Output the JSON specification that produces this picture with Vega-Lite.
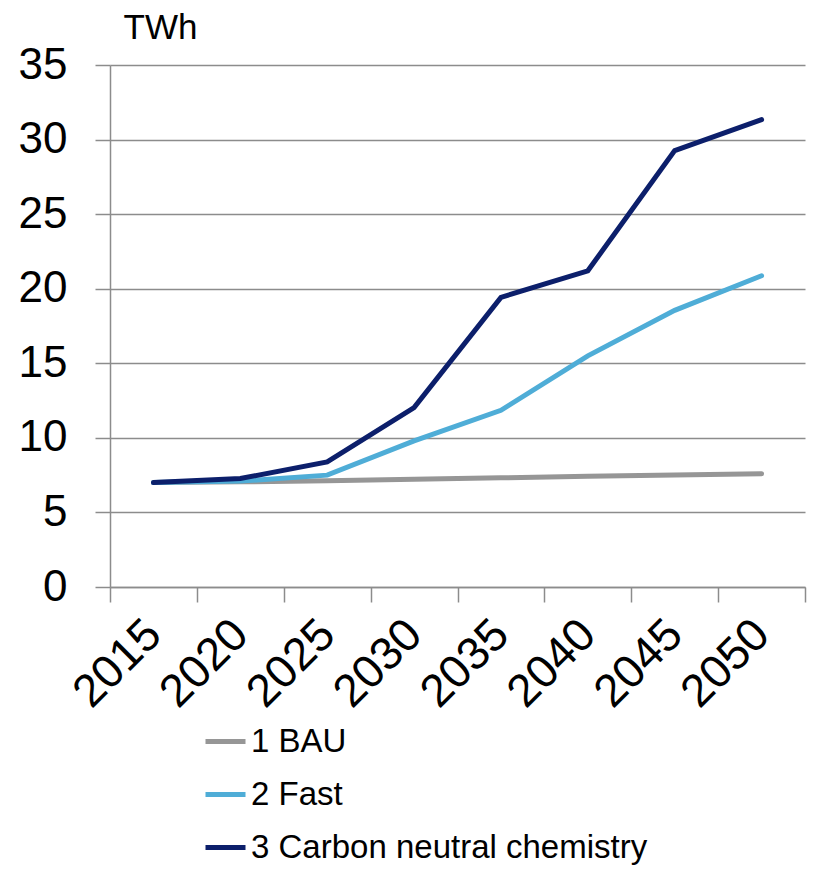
{
  "$schema": "https://vega.github.io/schema/vega-lite/v6.json",
  "autosize": "none",
  "width": 695,
  "height": 522,
  "padding": {"left": 110, "top": 65, "right": 13, "bottom": 282},
  "background": "white",
  "config": {
    "font": "Liberation Sans",
    "view": {"stroke": null}
  },
  "data": {
    "values": [
      {"year": "2015", "scenario": "1 BAU", "twh": 7.0},
      {"year": "2020", "scenario": "1 BAU", "twh": 7.05},
      {"year": "2025", "scenario": "1 BAU", "twh": 7.12},
      {"year": "2030", "scenario": "1 BAU", "twh": 7.22},
      {"year": "2035", "scenario": "1 BAU", "twh": 7.32},
      {"year": "2040", "scenario": "1 BAU", "twh": 7.42},
      {"year": "2045", "scenario": "1 BAU", "twh": 7.51},
      {"year": "2050", "scenario": "1 BAU", "twh": 7.6},
      {"year": "2015", "scenario": "2 Fast", "twh": 7.0},
      {"year": "2020", "scenario": "2 Fast", "twh": 7.1},
      {"year": "2025", "scenario": "2 Fast", "twh": 7.5},
      {"year": "2030", "scenario": "2 Fast", "twh": 9.8},
      {"year": "2035", "scenario": "2 Fast", "twh": 11.85},
      {"year": "2040", "scenario": "2 Fast", "twh": 15.5},
      {"year": "2045", "scenario": "2 Fast", "twh": 18.55},
      {"year": "2050", "scenario": "2 Fast", "twh": 20.87},
      {"year": "2015", "scenario": "3 Carbon neutral chemistry", "twh": 7.0},
      {"year": "2020", "scenario": "3 Carbon neutral chemistry", "twh": 7.27},
      {"year": "2025", "scenario": "3 Carbon neutral chemistry", "twh": 8.39},
      {"year": "2030", "scenario": "3 Carbon neutral chemistry", "twh": 12.03},
      {"year": "2035", "scenario": "3 Carbon neutral chemistry", "twh": 19.42},
      {"year": "2040", "scenario": "3 Carbon neutral chemistry", "twh": 21.2},
      {"year": "2045", "scenario": "3 Carbon neutral chemistry", "twh": 29.26},
      {"year": "2050", "scenario": "3 Carbon neutral chemistry", "twh": 31.34}
    ]
  },
  "mark": {"type": "line", "strokeWidth": 5, "strokeCap": "round", "strokeJoin": "miter"},
  "encoding": {
    "x": {
      "field": "year",
      "type": "ordinal",
      "scale": {"type": "band", "paddingInner": 0, "paddingOuter": 0},
      "axis": {
        "title": null,
        "tickBand": "extent",
        "grid": false,
        "domainColor": "#8c8c8c",
        "domainWidth": 1.5,
        "tickColor": "#8c8c8c",
        "tickWidth": 1.5,
        "tickSize": 15,
        "labelAngle": -45,
        "labelAlign": "right",
        "labelBaseline": "middle",
        "labelPadding": 25,
        "labelFontSize": 46,
        "labelColor": "black",
        "labelFont": "Liberation Sans"
      }
    },
    "y": {
      "field": "twh",
      "type": "quantitative",
      "scale": {"domain": [0, 35], "nice": false},
      "axis": {
        "values": [0, 5, 10, 15, 20, 25, 30, 35],
        "title": "TWh",
        "titleAngle": 0,
        "titleAlign": "left",
        "titleBaseline": "alphabetic",
        "titleX": 13,
        "titleY": -27,
        "titleFontSize": 35,
        "titleFontWeight": "normal",
        "titleColor": "black",
        "titleFont": "Liberation Sans",
        "grid": true,
        "gridColor": "#8c8c8c",
        "gridWidth": 1.5,
        "domainColor": "#8c8c8c",
        "domainWidth": 1.5,
        "tickColor": "#8c8c8c",
        "tickWidth": 1.5,
        "tickSize": 15,
        "labelPadding": 28,
        "labelFontSize": 44,
        "labelBaseline": "middle",
        "labelColor": "black",
        "labelFont": "Liberation Sans"
      }
    },
    "color": {
      "field": "scenario",
      "type": "nominal",
      "scale": {
        "domain": ["1 BAU", "2 Fast", "3 Carbon neutral chemistry"],
        "range": ["#969696", "#4fadd7", "#0c1f6b"]
      },
      "legend": {
        "title": null,
        "orient": "none",
        "legendX": 93,
        "legendY": 654,
        "direction": "vertical",
        "symbolType": "stroke",
        "symbolStrokeWidth": 5,
        "symbolSize": 1600,
        "labelFontSize": 33,
        "labelFont": "Liberation Sans",
        "labelColor": "black",
        "labelOffset": 3,
        "rowPadding": 13,
        "labelLimit": 600
      }
    }
  }
}
